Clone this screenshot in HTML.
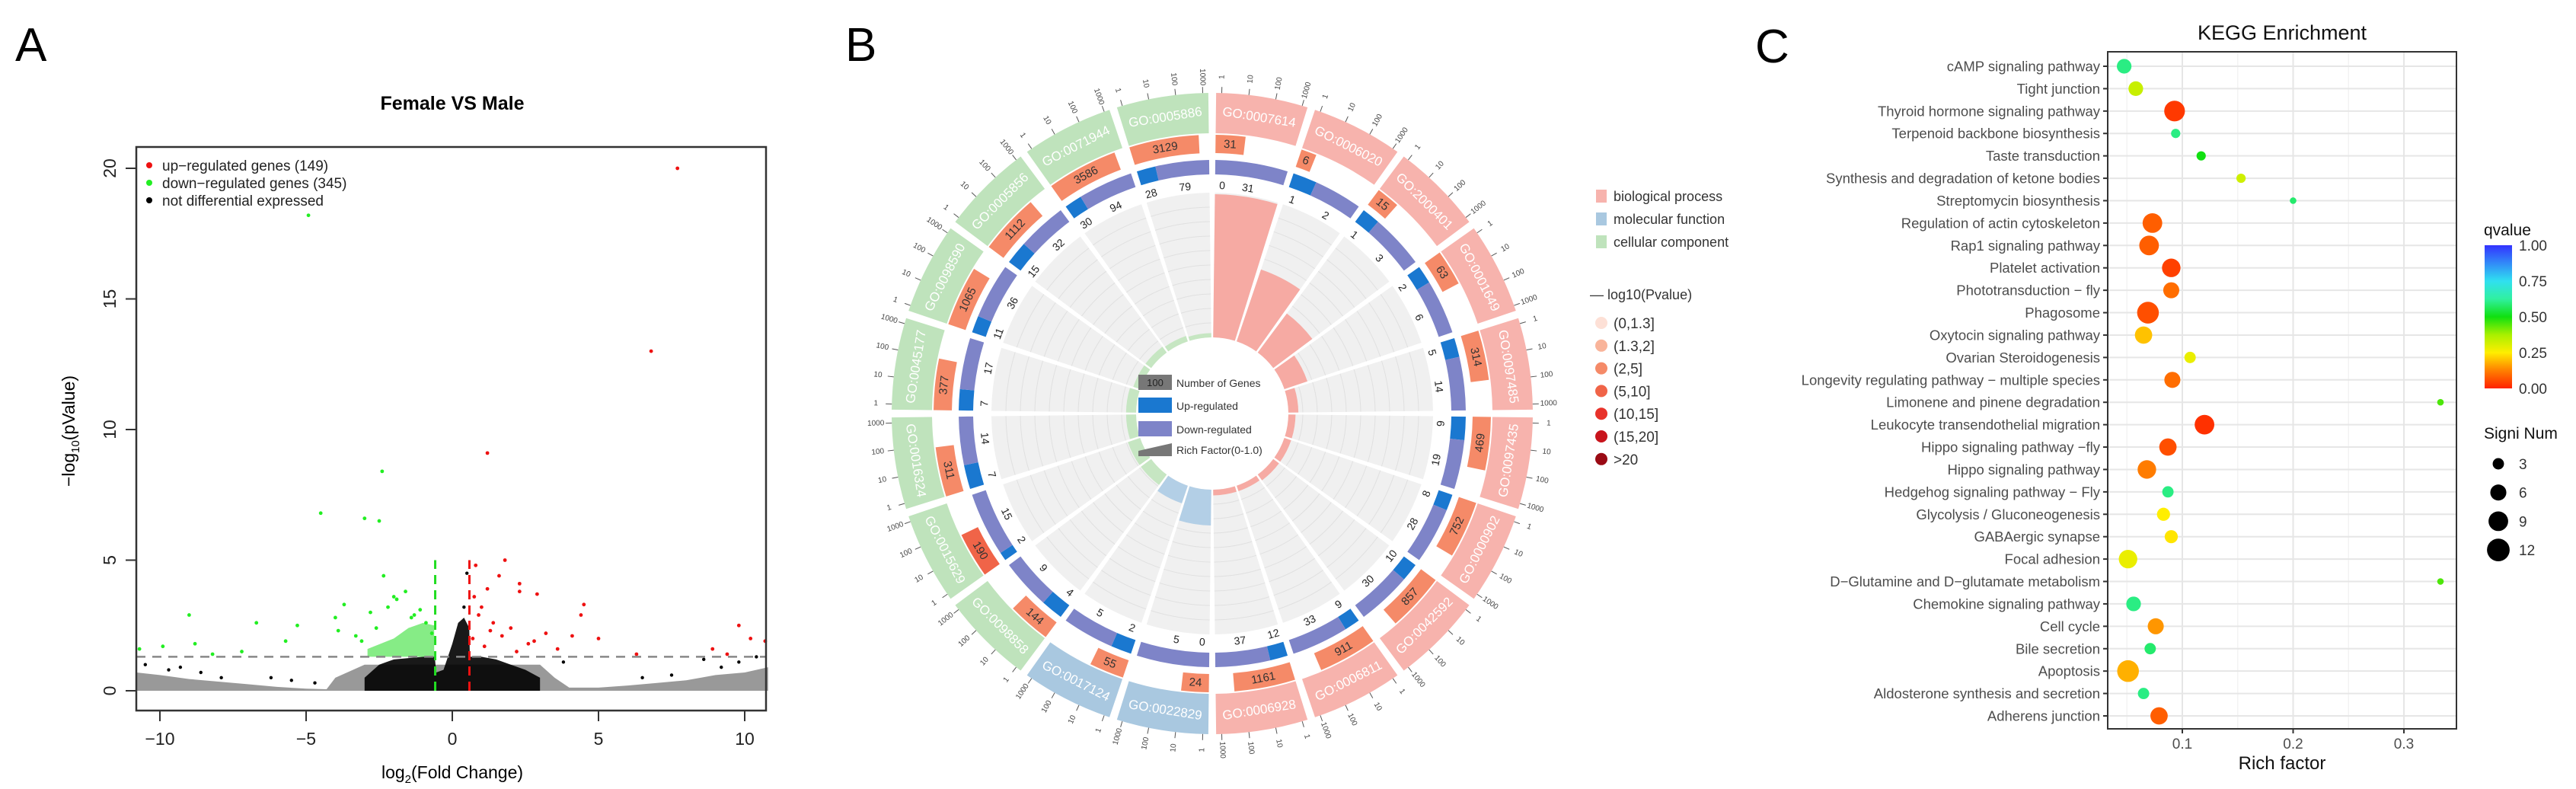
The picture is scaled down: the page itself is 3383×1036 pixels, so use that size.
<!DOCTYPE html>
<html><head><meta charset="utf-8"><style>
html,body{margin:0;padding:0;background:#fff;}
svg{display:block;font-family:"Liberation Sans",Arial,sans-serif;}
</style></head><body>
<svg id="fig" width="3383" height="1036" viewBox="0 0 3383 1036" xmlns="http://www.w3.org/2000/svg">
<rect width="3383" height="1036" fill="#fff"/>
<g id="panelA">
  <text x="20" y="80" font-size="62">A</text>
  <text x="594" y="144" font-size="25" font-weight="bold" text-anchor="middle">Female VS Male</text>
  <g id="aMarks"></g>
  <rect x="179" y="193" width="827" height="740" fill="none" stroke="#333" stroke-width="2.5"/>
  <g id="aAxes"></g>
  <text x="594" y="1022" font-size="23" text-anchor="middle">log<tspan font-size="15" dy="6">2</tspan><tspan dy="-6">(Fold Change)</tspan></text>
  <text transform="translate(98,566) rotate(-90)" font-size="23" text-anchor="middle">−log<tspan font-size="15" dy="6">10</tspan><tspan dy="-6">(pValue)</tspan></text>
  <g>
    <circle cx="196" cy="217" r="4" fill="#ee1111"/>
    <text x="213" y="224" font-size="19" fill="#222">up−regulated genes (149)</text>
    <circle cx="196" cy="240" r="4" fill="#22ee22"/>
    <text x="213" y="247" font-size="19" fill="#222">down−regulated genes (345)</text>
    <circle cx="196" cy="263" r="4" fill="#000"/>
    <text x="213" y="270" font-size="19" fill="#222">not differential expressed</text>
  </g>
</g>
<g id="panelB">
  <text x="1110" y="80" font-size="62">B</text>
  <g id="bMarks"></g>
  <g>
    <rect x="1495" y="492" width="44" height="20" fill="#777"/>
    <text x="1517" y="507" font-size="13" fill="#222" text-anchor="middle">100</text>
    <text x="1545" y="508" font-size="14" fill="#333">Number of Genes</text>
    <rect x="1495" y="522" width="44" height="20" fill="#1a78d0"/>
    <text x="1545" y="538" font-size="14" fill="#333">Up-regulated</text>
    <rect x="1495" y="553" width="44" height="20" fill="#7e84c8"/>
    <text x="1545" y="569" font-size="14" fill="#333">Down-regulated</text>
    <polygon points="1495,592 1539,582 1539,599 1495,599" fill="#777"/>
    <text x="1545" y="596" font-size="14" fill="#333">Rich Factor(0-1.0)</text>
  </g>
  <g>
    <rect x="2096" y="249" width="14" height="17" fill="#f7b3ad"/>
    <text x="2119" y="264" font-size="18" fill="#333">biological process</text>
    <rect x="2096" y="279" width="14" height="17" fill="#a9c8e0"/>
    <text x="2119" y="294" font-size="18" fill="#333">molecular function</text>
    <rect x="2096" y="309" width="14" height="17" fill="#bfe3bc"/>
    <text x="2119" y="324" font-size="18" fill="#333">cellular component</text>
    <text x="2088" y="393" font-size="18" fill="#333">— log10(Pvalue)</text>
  </g>
  <g id="pLegend"></g>
</g>
<g id="panelC">
  <text x="2305" y="82" font-size="62">C</text>
  <text x="2997" y="52" font-size="27" text-anchor="middle" fill="#111">KEGG Enrichment</text>
  <g id="cMarks"></g>
  <text x="2997" y="1010" font-size="24" text-anchor="middle" fill="#111">Rich factor</text>
  <defs>
    <linearGradient id="qgrad" x1="0" y1="1" x2="0" y2="0">
      <stop offset="0" stop-color="#ff2200"/><stop offset="0.125" stop-color="#ff8000"/>
      <stop offset="0.25" stop-color="#ffee00"/><stop offset="0.375" stop-color="#a8f000"/>
      <stop offset="0.5" stop-color="#10e010"/><stop offset="0.625" stop-color="#30f0a0"/>
      <stop offset="0.75" stop-color="#30e0f0"/><stop offset="1" stop-color="#3333ff"/>
    </linearGradient>
  </defs>
  <text x="3262" y="309" font-size="21" fill="#111">qvalue</text>
  <rect x="3263" y="322" width="36" height="188" fill="url(#qgrad)"/>
  <g id="qTicks"></g>
  <text x="3262" y="576" font-size="21" fill="#111">Signi Num</text>
  <g id="sLegend"></g>
</g>
</svg>
<script>
// ---------------- Panel A data ----------------
const aXTicks = [-10, -5, 0, 5, 10];
const aYTicks = [0, 5, 10, 15, 20];
const nsEnvX = [-10.8,-10,-9,-8,-7,-6,-5,-4.3,-4,-3,3,3.5,4,5,6,7,8,9,10,10.8];
const nsEnvTop = [0.7,0.6,0.45,0.35,0.25,0.15,0.08,0.06,0.5,1.0,1.0,0.5,0.12,0.12,0.2,0.3,0.4,0.6,0.7,0.9];
const coreEnvX = [-3.0,-2.5,-2,-1,-0.6,-0.55,-0.3,0,0.2,0.4,0.58,0.6,1,1.5,2,2.5,3.0];
const coreEnvTop = [0.5,1.0,1.2,1.3,1.3,0.7,0.8,1.8,2.6,2.8,2.4,1.3,1.3,1.2,1.0,0.8,0.5];
const greenEnvX = [-2.9,-2,-1.5,-1,-0.62];
const greenEnvTop = [1.6,2.0,2.4,2.6,2.5];
const downX = [-4.92,-4.5,-3,-2.5,-2.4,-2.35,-9,-6.7,-5.3,-3.7,-1.6,-2,-4,-9.9,-10.7,-8.8,-3.9,-3.3,-2.8,-2.2,-1.9,-1.3,-1.1,-0.9,-0.7,-1.4,-2.6,-3.1,-5.7,-8.2,-7.2];
const downY = [18.2,6.8,6.6,6.5,8.4,4.4,2.9,2.6,2.5,3.3,3.8,3.6,2.8,1.7,1.6,1.8,2.3,2.1,3.0,3.2,3.5,2.9,3.1,2.6,2.2,2.8,2.4,1.9,1.9,1.4,1.5];
const upX = [7.7,6.8,1.2,1.8,1.6,2.3,2.3,1.2,2.9,4.5,4.4,9.8,10.2,10.7,5,4.1,8.9,9.4,6.3,0.8,1.0,1.4,0.7,2.0,2.6,3.2,1.1,0.9,1.7,2.2,3.6,2.8,1.3,0.75];
const upY = [20,13,9.1,5,4.4,4.1,3.8,3.9,3.7,3.3,2.9,2.5,2.0,1.9,2.0,2.1,1.6,1.4,1.4,4.8,3.2,2.6,2.0,2.4,1.8,2.2,1.7,2.9,2.1,1.5,1.6,1.9,2.3,3.6];
const nsX = [-10.5,-9.7,-9.3,-8.6,-7.9,-6.2,-5.5,-4.7,0.5,0.4,3.8,6.5,7.5,8.6,9.2,9.8,10.4];
const nsY = [1.0,0.8,0.9,0.7,0.5,0.5,0.4,0.3,4.5,3.2,1.1,0.5,0.6,1.2,0.9,1.1,1.3];
const pThresh = 1.3;
const fcThresh = 0.585;

// ---------------- Panel B data ----------------
const goTerms = ["GO:0007614","GO:0006020","GO:2000401","GO:0001649","GO:0097485","GO:0097435","GO:0000902","GO:0042592","GO:0006811","GO:0006928","GO:0022829","GO:0017124","GO:0098858","GO:0015629","GO:0016324","GO:0045177","GO:0098590","GO:0005856","GO:0071944","GO:0005886"];
const goCategory = ["bp","bp","bp","bp","bp","bp","bp","bp","bp","bp","mf","mf","cc","cc","cc","cc","cc","cc","cc","cc"];
const goCounts = [31,6,15,63,314,469,752,857,911,1161,24,55,144,190,311,377,1065,1112,3586,3129];
const goUp = [0,1,1,2,5,9,8,10,9,12,0,2,4,2,7,7,11,15,30,28];
const goDown = [31,2,3,6,14,19,28,30,33,37,5,5,9,15,14,17,36,32,94,79];
const goRich = [1.0,0.53,0.34,0.17,0.07,0.05,0.05,0.05,0.04,0.04,0.25,0.13,0.09,0.09,0.07,0.07,0.05,0.05,0.04,0.03];
const goPClass = [2,2,2,2,2,2,2,2,2,2,2,2,2,3,2,2,2,2,2,2];
const scaleTicks = ["1","10","100","1000"];
const pLabels = ["(0,1.3]","(1.3,2]","(2,5]","(5,10]","(10,15]","(15,20]",">20"];
const pColors = ["#fde0d6","#f9b49a","#f58a68","#f06448","#e8322a","#c8141c","#9a0a14"];

// ---------------- Panel C data ----------------
const pathways = ["cAMP signaling pathway","Tight junction","Thyroid hormone signaling pathway","Terpenoid backbone biosynthesis","Taste transduction","Synthesis and degradation of ketone bodies","Streptomycin biosynthesis","Regulation of actin cytoskeleton","Rap1 signaling pathway","Platelet activation","Phototransduction − fly","Phagosome","Oxytocin signaling pathway","Ovarian Steroidogenesis","Longevity regulating pathway − multiple species","Limonene and pinene degradation","Leukocyte transendothelial migration","Hippo signaling pathway −fly","Hippo signaling pathway","Hedgehog signaling pathway − Fly","Glycolysis / Gluconeogenesis","GABAergic synapse","Focal adhesion","D−Glutamine and D−glutamate metabolism","Chemokine signaling pathway","Cell cycle","Bile secretion","Apoptosis","Aldosterone synthesis and secretion","Adherens junction"];
const richFactor = [0.0475,0.058,0.093,0.094,0.117,0.153,0.200,0.073,0.070,0.090,0.090,0.069,0.065,0.107,0.091,0.333,0.120,0.087,0.068,0.087,0.083,0.090,0.051,0.333,0.056,0.076,0.071,0.051,0.065,0.079];
const signiNum = [5,5,10,2,2,2,1,9,9,8,6,11,7,3,6,1,9,7,8,3,4,4,8,1,5,6,3,11,3,7];
const qValue = [0.6,0.33,0.03,0.6,0.5,0.32,0.58,0.08,0.08,0.04,0.1,0.06,0.2,0.28,0.1,0.45,0.02,0.06,0.12,0.6,0.25,0.24,0.28,0.45,0.6,0.15,0.58,0.18,0.6,0.08];
const cXTicks = [0.1,0.2,0.3];
const cXMinor = [0.05,0.15,0.25];
const qTickVals = [1.00,0.75,0.50,0.25,0.00];
const sizeLegendVals = [3,6,9,12];

const NS = "http://www.w3.org/2000/svg";
function mk(tag, attrs, parent){ const e=document.createElementNS(NS,tag); for(const k in attrs) e.setAttribute(k,attrs[k]); parent.appendChild(e); return e; }

// ---------- Panel A draw ----------
(function(){
  const ax = v => 594 + v*38.4;
  const ay = v => 907 - v*34.3;
  const g = document.getElementById('aMarks');
  function env(xs, tops, fill, op, name){
    let d = "M"+ax(xs[0])+","+ay(0);
    xs.forEach((x,i)=>{ d += " L"+ax(x)+","+ay(tops[i]); });
    d += " L"+ax(xs[xs.length-1])+","+ay(0)+" Z";
    const p = mk('path',{d:d,fill:fill,'fill-opacity':op},g);
    
    
  }
  env(nsEnvX, nsEnvTop, "#000", 0.4, 'ns-cloud');
  env(coreEnvX, coreEnvTop, "#000", 0.9, 'ns-core-cloud');
  let d = "M"+ax(greenEnvX[0])+","+ay(pThresh);
  greenEnvX.forEach((x,i)=>{ d += " L"+ax(x)+","+ay(greenEnvTop[i]); });
  d += " L"+ax(greenEnvX[greenEnvX.length-1])+","+ay(pThresh)+" Z";
  const gp = mk('path',{d:d,fill:"#22dd22",'fill-opacity':0.55},g);
  
  
  nsX.forEach((x,i)=>{ const c=mk('circle',{cx:ax(x),cy:ay(nsY[i]),r:2.2,fill:"#000"},g);
    
     });
  downX.forEach((x,i)=>{ const c=mk('circle',{cx:ax(x),cy:ay(downY[i]),r:2.4,fill:"#22ee22"},g);
    
     });
  upX.forEach((x,i)=>{ const c=mk('circle',{cx:ax(x),cy:ay(upY[i]),r:2.4,fill:"#ee1111"},g);
    
     });
  const h = mk('line',{x1:179,x2:1006,y1:ay(pThresh),y2:ay(pThresh),stroke:"#888",'stroke-width':2.5,'stroke-dasharray':"12,9"},g);
  
  
  const vg = mk('line',{x1:ax(-fcThresh),x2:ax(-fcThresh),y1:ay(0),y2:ay(5),stroke:"#22dd22",'stroke-width':3,'stroke-dasharray':"12,8"},g);
  
  
  const vr = mk('line',{x1:ax(fcThresh),x2:ax(fcThresh),y1:ay(0),y2:ay(5),stroke:"#ee1111",'stroke-width':3,'stroke-dasharray':"12,8"},g);
  
  
  const axg = document.getElementById('aAxes');
  aXTicks.forEach(v=>{
    const l=mk('line',{x1:ax(v),x2:ax(v),y1:933,y2:947,stroke:"#333",'stroke-width':2},axg);
    
    
    const t=mk('text',{x:ax(v),y:978,'font-size':23,'text-anchor':'middle',fill:'#222'},axg);
    t.textContent = v<0 ? "−"+Math.abs(v) : String(v);
    
    
  });
  aYTicks.forEach(v=>{
    const l=mk('line',{x1:165,x2:179,y1:ay(v),y2:ay(v),stroke:"#333",'stroke-width':2},axg);
    
    
    const t=mk('text',{transform:"translate(152,"+ay(v)+") rotate(-90)",'font-size':23,'text-anchor':'middle',fill:'#222'},axg);
    t.textContent = String(v);
    
    
  });
})();

// ---------- Panel B draw ----------
(function(){
  const cx=1592, cy=543;
  const g=document.getElementById('bMarks');
  const catCol={bp:"#f7b3ad",mf:"#a9c8e0",cc:"#bfe3bc"};
  const richCol={bp:"#f6aaa3",mf:"#b3cfe6",cc:"#c6e6c2"};
  function P(r,th){const a=th*Math.PI/180; return [cx+r*Math.sin(a), cy-r*Math.cos(a)];}
  function arc(r0,r1,a0,a1){
    const A=P(r1,a0),B=P(r1,a1),C=P(r0,a1),D=P(r0,a0);
    const lg=(a1-a0)>180?1:0;
    return "M"+A+" A"+r1+","+r1+" 0 "+lg+" 1 "+B+" L"+C+" A"+r0+","+r0+" 0 "+lg+" 0 "+D+" Z";
  }
  function rot(th){ return (th>90 && th<270) ? th-180 : th; }
  function txt(r,th,str,size,fill,name){
    const p=P(r,th);
    const t=mk('text',{x:p[0],y:p[1],'font-size':size,fill:fill,'text-anchor':'middle','dominant-baseline':'central',transform:"rotate("+rot(th)+" "+p[0]+" "+p[1]+")"},g);
    t.textContent=str;
    
    
    return t;
  }
  const n=goTerms.length, step=360/n;
  goTerms.forEach((term,i)=>{
    const a0=i*step+0.7, a1=(i+1)*step-0.7, span=a1-a0, cat=goCategory[i];
    const s=mk('path',{d:arc(100,290,a0,a1),fill:"#f0f0f0"},g);
    
    
    for(let k=1;k<10;k++){
      const rr=100+k*19;
      const A=P(rr,a0),B=P(rr,a1);
      const c=mk('path',{d:"M"+A+" A"+rr+","+rr+" 0 0 1 "+B,fill:"none",stroke:"#e0e0e0",'stroke-width':1},g);
      
      
    }
    const rb=mk('path',{d:arc(100,100+goRich[i]*188,a0,a1),fill:richCol[cat]},g);
    
    
    const tot=goUp[i]+goDown[i];
    const au=a0+span*goUp[i]/tot;
    if(goUp[i]>0){
      const u=mk('path',{d:arc(314,333,a0,au),fill:"#1a78d0"},g);
      
      
    }
    const dn=mk('path',{d:arc(314,333,au,a1),fill:"#7e84c8"},g);
    
    
    txt(300,a0+1.8,String(goUp[i]),14,"#222",'up-count-label');
    txt(300,(au+a1)/2,String(goDown[i]),14,"#222",'down-count-label');
    const ae=a0+span*Math.log10(goCounts[i])/4;
    const cb=mk('path',{d:arc(342,366,a0,Math.max(ae,a0+2)),fill:pColors[goPClass[i]]},g);
    
    
    txt(354,(a0+Math.max(ae,a0+2))/2,String(goCounts[i]),15,"#333",'gene-count-label');
    const lr=mk('path',{d:arc(368,421,a0,a1),fill:catCol[cat]},g);
    
    
    txt(394,(a0+a1)/2,term,17,"#fff",'go-term-label');
    scaleTicks.forEach((lab,k)=>{
      const th=a0+1+k*(span-2)/3;
      const A=P(421,th),B=P(429,th);
      const l=mk('line',{x1:A[0],y1:A[1],x2:B[0],y2:B[1],stroke:"#555",'stroke-width':1},g);
      
      
      const p=P(442,th);
      const r=th<180?th-90:th+90;
      const t=mk('text',{x:p[0],y:p[1],'font-size':10,fill:"#444",'text-anchor':'middle','dominant-baseline':'central',transform:"rotate("+r+" "+p[0]+" "+p[1]+")"},g);
      t.textContent=lab;
      
      
    });
  });
  const pl=document.getElementById('pLegend');
  pLabels.forEach((lab,i)=>{
    const y=424+i*29.8;
    const c=mk('circle',{cx:2103,cy:y,r:8,fill:pColors[i]},pl);
    
    
    const t=mk('text',{x:2119,y:y+7,'font-size':19,fill:"#333"},pl);
    t.textContent=lab;
    
    
  });
})();

// ---------- Panel C draw ----------
(function(){
  const L=2768,R=3226,T=68,B=957;
  const xC=v=>2866+(v-0.1)*1455;
  const yC=i=>87+i*((940-87)/(pathways.length-1));
  const stops=[[0,[255,34,0]],[0.125,[255,128,0]],[0.25,[255,238,0]],[0.375,[168,240,0]],[0.5,[16,224,16]],[0.625,[48,240,160]],[0.75,[48,224,240]],[1,[51,51,255]]];
  function qcol(q){
    for(let k=0;k<stops.length-1;k++){
      const a=stops[k],b=stops[k+1];
      if(q<=b[0]){const t=(q-a[0])/(b[0]-a[0]);return "rgb("+a[1].map((v,j)=>Math.round(v+(b[1][j]-v)*t)).join(",")+")";}
    }
    return "rgb(51,51,255)";
  }
  const dia=n=>8.6*Math.sqrt(n);
  const g=document.getElementById('cMarks');
  const bg=mk('rect',{x:L,y:T,width:R-L,height:B-T,fill:"#fff"},g);
  
  
  cXMinor.forEach(v=>{
    const l=mk('line',{x1:xC(v),x2:xC(v),y1:T,y2:B,stroke:"#f3f3f3",'stroke-width':1.5},g);
    
    
  });
  cXTicks.forEach(v=>{
    const l=mk('line',{x1:xC(v),x2:xC(v),y1:T,y2:B,stroke:"#e6e6e6",'stroke-width':2},g);
    
    
    const tk=mk('line',{x1:xC(v),x2:xC(v),y1:B,y2:B+6,stroke:"#333",'stroke-width':2},g);
    
    
    const t=mk('text',{x:xC(v),y:983,'font-size':19,fill:"#4d4d4d",'text-anchor':'middle'},g);
    t.textContent=v.toFixed(1);
    
    
  });
  pathways.forEach((p,i)=>{
    const y=yC(i);
    const l=mk('line',{x1:L,x2:R,y1:y,y2:y,stroke:"#e6e6e6",'stroke-width':2},g);
    
    
    const tk=mk('line',{x1:L-6,x2:L,y1:y,y2:y,stroke:"#333",'stroke-width':2},g);
    
    
    const t=mk('text',{x:L-10,y:y+6.5,'font-size':18.5,fill:"#4d4d4d",'text-anchor':'end'},g);
    t.textContent=p;
    
    
  });
  pathways.forEach((p,i)=>{
    const c=mk('circle',{cx:xC(richFactor[i]),cy:yC(i),r:dia(signiNum[i])/2,fill:qcol(qValue[i])},g);
    
    
  });
  const fr=mk('rect',{x:L,y:T,width:R-L,height:B-T,fill:"none",stroke:"#333",'stroke-width':2},g);
  
  
  const qt=document.getElementById('qTicks');
  qTickVals.forEach(v=>{
    const y=510-v*188;
    const t=mk('text',{x:3308,y:y+7,'font-size':19,fill:"#333"},qt);
    t.textContent=v.toFixed(2);
    
    
  });
  const sl=document.getElementById('sLegend');
  sizeLegendVals.forEach((v,i)=>{
    const y=609+i*37.7;
    const c=mk('circle',{cx:3281,cy:y,r:dia(v)/2,fill:"#000"},sl);
    
    
    const t=mk('text',{x:3308,y:y+7,'font-size':19,fill:"#333"},sl);
    t.textContent=String(v);
    
    
  });
})();
</script>
</body></html>
